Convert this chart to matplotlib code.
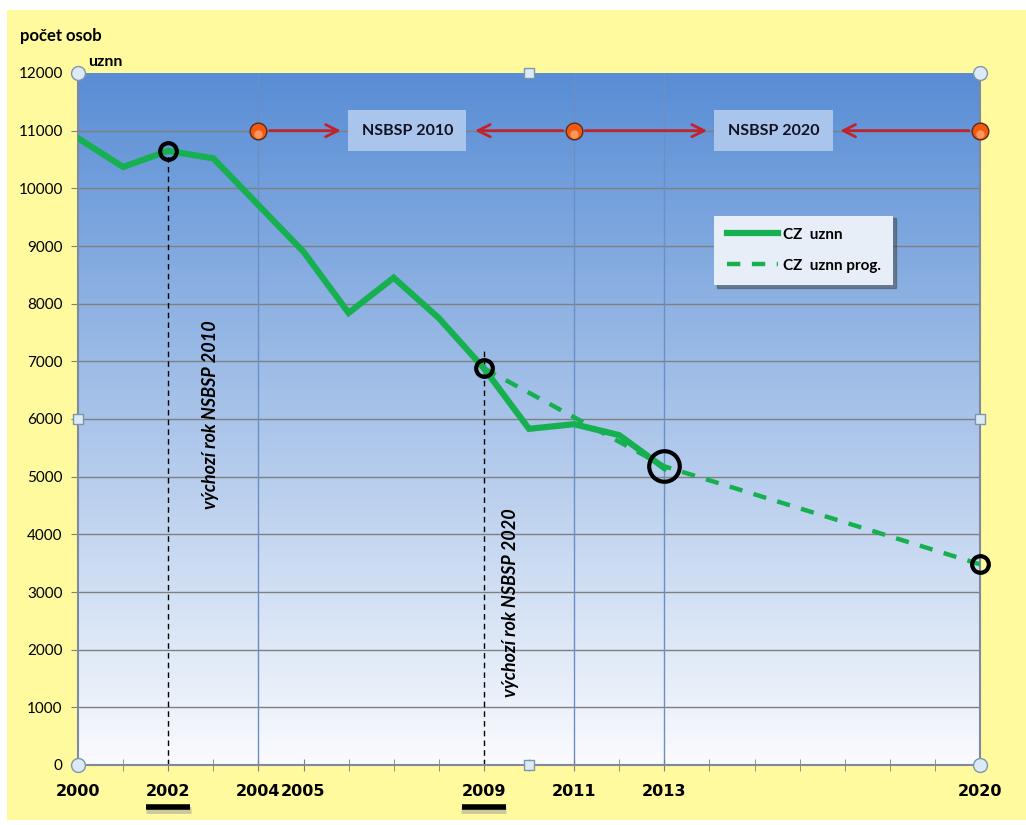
import numpy as np
import matplotlib
matplotlib.use('Agg')
import matplotlib.pyplot as plt
import matplotlib.transforms as mtransforms
from matplotlib.patches import Rectangle

# data
years = [2000, 2001, 2002, 2003, 2004, 2005, 2006, 2007, 2008, 2009, 2010, 2011, 2012, 2013]
uznn = [10870, 10370, 10650, 10520, 9710, 8900, 7840, 8450, 7750, 6880, 5830, 5910, 5720, 5150]
prog_years = [2009, 2013, 2020]
prog = [6880, 5180, 3480]
label_years = [2000, 2002, 2004, 2005, 2009, 2011, 2013, 2020]
marked_years = [2002, 2009]
blue_grid_years = [2004, 2011, 2013]
period_points = [2004, 2011, 2020]
period_names = ['NSBSP 2010', 'NSBSP 2020']
period_centers = [2007.3, 2015.42]

plt.rcParams['font.family'] = ['Lato', 'DejaVu Sans']

fig = plt.figure(figsize=(10.26, 8.25), dpi=100, facecolor='white')
fig.patches.append(Rectangle((7 / 1026, 5 / 825), 1 - 7 / 1026, 1 - 15 / 825,
                             transform=fig.transFigure, facecolor='#fffa9e',
                             edgecolor='none', zorder=-10))

ax = fig.add_axes([78 / 1026, 1 - 765 / 825, (980 - 78) / 1026, (765 - 73) / 825])
ax.set_facecolor('none')
ax.set_xlim(2000, 2020)
ax.set_ylim(0, 12000)

# background gradient blue -> white
top = np.array([88, 141, 213]) / 255
bot = np.array([250, 251, 254]) / 255
t = np.linspace(0, 1, 256)[:, None]
grad = (top * (1 - t) + bot * t)[:, None, :]
grad = np.repeat(grad, 2, axis=1)
ax.imshow(grad, extent=[2000, 2020, 0, 12000], aspect='auto', zorder=0,
          origin='upper', interpolation='bilinear')

for yv in range(1000, 12000, 1000):
    ax.axhline(yv, color='#7f7f7f', lw=1, zorder=1)
for xv in blue_grid_years:
    ax.axvline(xv, color='#6a8fc6', lw=1, zorder=1)

for s in ['left', 'right', 'bottom']:
    ax.spines[s].set_color('#7f8aa0')
    ax.spines[s].set_linewidth(1.5)
ax.spines['top'].set_visible(False)

ax.set_yticks(range(0, 12001, 1000))
ax.tick_params(axis='y', direction='out', length=5, labelsize=11, color='#7f7f7f', pad=6)
ax.set_xticks(label_years)
ax.set_xticklabels([str(y) for y in label_years], fontweight='bold', fontsize=11.5,
                   family=['Liberation Sans Narrow', 'DejaVu Sans'])
ax.set_xticks(range(2000, 2021), minor=True)
ax.tick_params(axis='x', which='both', direction='inout', length=9, color='#7f7f7f', pad=9)

# underline marks under the base years
trans = mtransforms.blended_transform_factory(ax.transData, ax.transAxes)
for yr in marked_years:
    ax.plot([yr - 0.5, yr + 0.5], [-0.065, -0.065], transform=trans, color='#999999',
            lw=5, alpha=0.5, clip_on=False, solid_capstyle='butt')
    ax.plot([yr - 0.49, yr + 0.49], [-0.061, -0.061], transform=trans, color='black',
            lw=4, clip_on=False, solid_capstyle='butt')

# base year dashed verticals
ax.plot([2002, 2002], [0, 10650], color='black', lw=1, ls=(0, (4, 3)), zorder=2)
ax.plot([2009, 2009], [0, 7200], color='black', lw=1, ls=(0, (4, 3)), zorder=2)

green = '#17b050'
ax.plot(years, uznn, color=green, lw=4.5, solid_joinstyle='miter', zorder=3, label='CZ  uznn')
ax.plot(prog_years, prog, color=green, lw=3.2, ls=(0, (3, 2.6)), zorder=3, label='CZ  uznn prog.')

# highlighted points
ax.plot([2002], [10650], 'o', ms=12, mfc='none', mec='black', mew=3, zorder=5)
ax.plot([2009], [6880], 'o', ms=12, mfc='none', mec='black', mew=3, zorder=5)
ax.plot([2013], [5180], 'o', ms=22, mfc='none', mec='black', mew=3, zorder=5)
ax.plot([2020], [3480], 'o', ms=12, mfc='none', mec='black', mew=3, zorder=5, clip_on=False)

# strategy periods
red = '#c0232b'
arrow_kw = dict(arrowstyle='->', color=red, lw=2, mutation_scale=22, shrinkA=8, shrinkB=0)
ax.annotate('', xy=(2005.83, 11000), xytext=(period_points[0], 11000), arrowprops=arrow_kw, zorder=4)
ax.annotate('', xy=(2008.8, 11000), xytext=(period_points[1], 11000), arrowprops=arrow_kw, zorder=4)
ax.annotate('', xy=(2013.95, 11000), xytext=(period_points[1], 11000), arrowprops=arrow_kw, zorder=4)
ax.annotate('', xy=(2016.9, 11000), xytext=(period_points[2], 11000), arrowprops=arrow_kw, zorder=4)
for name, cx in zip(period_names, period_centers):
    ax.text(cx, 11000, name, ha='center', va='center', fontsize=11.5, fontweight='bold',
            color='#111122', zorder=5,
            bbox=dict(boxstyle='square,pad=0.85', fc='#a9c5ec', ec='none'))
ax.plot(period_points, [11000] * 3, 'o', ms=12, mfc='#f25a12', mec='#5a2a18', mew=1,
        zorder=6, clip_on=False)
ax.plot(period_points, [10940] * 3, 'o', ms=6, mfc='#ffc89a', mec='none', zorder=7,
        clip_on=False, alpha=0.55)

ax.text(2002.93, 6070, 'výchozí rok NSBSP 2010', rotation=90, ha='center', va='center',
        fontsize=13, fontweight='bold', fontstyle='italic', zorder=5)
ax.text(2009.6, 2810, 'výchozí rok NSBSP 2020', rotation=90, ha='center', va='center',
        fontsize=13, fontweight='bold', fontstyle='italic', zorder=5)

leg = ax.legend(loc='upper left', bbox_to_anchor=(0.697, 0.805), frameon=True, fancybox=False,
                shadow=True, handlelength=3.4, borderpad=0.8, labelspacing=1.1,
                handletextpad=0.3, prop={'weight': 'bold', 'size': 11})
leg.get_frame().set_facecolor('#e8eef8')
leg.get_frame().set_edgecolor('none')
leg.get_frame().set_alpha(1)

# selection handles of the plot area
ax.plot([2000, 2020, 2000, 2020], [12000, 12000, 0, 0], 'o', ms=10, mfc='#dbeaf6',
        mec='#7f95aa', mew=1, clip_on=False, zorder=8)
ax.plot([2010, 2000, 2020, 2010], [12000, 6000, 6000, 0], 's', ms=7, mfc='#dbeaf6',
        mec='#7f95aa', mew=1, clip_on=False, zorder=8)

fig.text(20 / 1026, 1 - 36 / 825, 'počet osob', fontsize=12, fontweight='bold', va='center')
fig.text(88 / 1026, 1 - 62 / 825, 'uznn', fontsize=11.5, fontweight='bold', va='center')

fig.savefig('out.png', dpi=100, facecolor=fig.get_facecolor())
